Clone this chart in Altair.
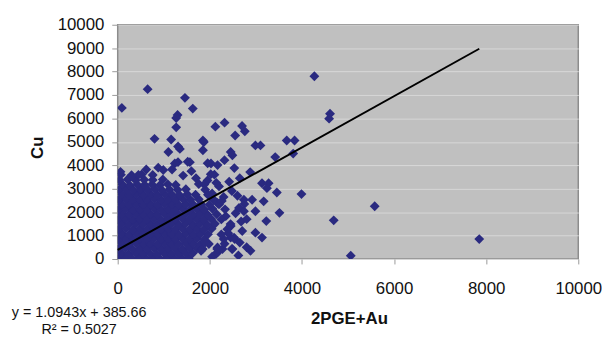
import altair as alt
import pandas as pd

# ---- data: 2PGE+Au (x) vs Cu (y) ----
dense_x = [
    12, 165, 318, 462, 615, 770, 912, 1068, 1222, 1385, 1540,
    85, 238, 392, 545, 698, 852, 1006, 1160, 1315, 1470, 1625,
    18, 170, 326, 480, 634, 788, 942, 1096, 1250, 1406, 1560, 1720,
    92, 246, 400, 554, 708, 862, 1016, 1170, 1324, 1478, 1632, 1790,
    20, 175, 330, 484, 638, 792, 946, 1100, 1254, 1408, 1562, 1716, 1880,
    95, 250, 404, 558, 712, 866, 1020, 1174, 1328, 1482, 1636, 1792, 1960,
    22, 178, 332, 486, 640, 794, 948, 1102, 1256, 1410, 1564, 1718, 1874, 2040,
    88, 242, 396, 550, 704, 858, 1012, 1166, 1320, 1474, 1628, 1782, 1940, 2110,
    16, 172, 326, 480, 634, 788, 942, 1096, 1250, 1404, 1558, 1712, 1868, 2030,
    90, 244, 398, 552, 706, 860, 1014, 1168, 1322, 1476, 1630, 1786, 1950,
    20, 176, 330, 484, 638, 792, 946, 1100, 1254, 1408, 1562, 1716, 1880, 2060,
    94, 248, 402, 556, 710, 864, 1018, 1172, 1326, 1480, 1640, 1810, 1990,
    24, 180, 334, 488, 642, 796, 950, 1104, 1258, 1416, 1580, 1760,
    98, 252, 406, 560, 714, 868, 1022, 1178, 1340, 1510, 1690,
    28, 184, 338, 492, 648, 804, 962, 1124, 1300, 1480,
    102, 262, 420, 584, 746, 915, 1090, 1260,
    40, 214, 392, 575, 760, 980,
    70, 300, 520, 760,
]
dense_y = [
    20, 55, 8, 42, 15, 60, 25, 48, 12, 38, 22,
    245, 210, 260, 225, 240, 205, 255, 230, 215, 262, 240,
    430, 465, 420, 450, 438, 470, 425, 455, 440, 418, 462, 445,
    660, 630, 675, 645, 660, 628, 670, 650, 635, 668, 648, 620,
    850, 880, 845, 870, 858, 882, 840, 868, 852, 875, 848, 870, 842,
    1080, 1050, 1085, 1062, 1078, 1045, 1090, 1066, 1050, 1082, 1060, 1075, 1052,
    1270, 1298, 1262, 1285, 1275, 1300, 1258, 1290, 1272, 1295, 1265, 1288, 1270, 1295,
    1500, 1472, 1505, 1485, 1498, 1468, 1510, 1488, 1470, 1502, 1482, 1498, 1475, 1505,
    1690, 1718, 1682, 1705, 1695, 1720, 1678, 1710, 1692, 1715, 1686, 1708, 1690, 1712,
    1920, 1892, 1925, 1905, 1918, 1888, 1930, 1908, 1890, 1922, 1902, 1918, 1895,
    2110, 2138, 2102, 2125, 2115, 2140, 2098, 2130, 2112, 2135, 2106, 2128, 2110, 2136,
    2340, 2312, 2345, 2325, 2338, 2308, 2350, 2328, 2310, 2342, 2322, 2338, 2316,
    2530, 2558, 2522, 2545, 2535, 2560, 2518, 2550, 2532, 2555, 2526, 2548,
    2760, 2732, 2765, 2745, 2758, 2728, 2770, 2748, 2735, 2762, 2742,
    2950, 2978, 2942, 2965, 2955, 2980, 2938, 2970, 2952, 2975,
    3180, 3152, 3185, 3165, 3178, 3150, 3186, 3160,
    3370, 3398, 3362, 3388, 3376, 3395,
    3600, 3575, 3610, 3585,
]

spread_x = [
    2025, 2168, 2490, 2318, 2532, 2876, 1953, 1567, 1309, 2453, 3133, 3276,
    3240, 3455, 2740, 2633, 2990, 3512, 3226, 2704, 2990, 3133, 2883, 2453,
    2167, 1810, 2918, 3169, 2740, 2168, 2347, 2454, 2526, 2490, 1846, 2168,
    2275, 2132, 2300, 2540, 2380, 2450, 2250, 2150, 2330, 2200, 2080, 1900,
    2160, 2480, 1980, 2050, 2300, 2480, 2200, 1950, 2420, 2650, 2100, 1700,
    1600, 2600, 2750, 2560, 2680, 2400, 2800, 2650, 2800, 2320, 2620, 2050,
    1900, 2250, 60, 310, 450, 990, 1240, 1520, 1100, 1350, 800, 1160,
    1960, 2140, 2260, 1880, 2020, 1760, 1420, 1180, 620, 880,
]
spread_y = [
    4079, 4008, 4430, 4220, 3880, 3710, 4090, 4135, 4135, 4571, 3235, 3235,
    3024, 2841, 2531, 2180, 2039, 1969, 1617, 1196, 1125, 914, 352, 914,
    492, 352, 2531, 2461, 2039, 2391, 1828, 1406, 914, 422, 422, 281,
    422, 211, 850, 850, 1270, 1490, 1690, 1910, 2120, 2330, 2540, 2960,
    430, 430, 640, 2800, 2650, 2900, 3100, 3350, 3300, 3450, 3600, 3450,
    3750, 2700, 2350, 1950, 1600, 1100, 1700, 700, 500, 650, 150, 100,
    700, 1050, 3720, 3520, 3590, 3800, 4080, 4150, 4570, 4700, 5130, 5100,
    2740, 3250, 2480, 3180, 3620, 3200, 3560, 3820, 3820, 3900,
]

outlier_x = [
    90, 650, 1460, 1630, 1300, 1270, 1270, 1310, 1850, 1850, 1870,
    2120, 2320, 2700, 2760, 2550, 2990, 3100, 3670, 3840, 3420, 3810,
    4270, 4610, 4590, 3990, 5580, 4690, 5060, 7850,
]
outlier_y = [
    6450, 7250, 6880, 6420, 6150, 6020, 5620, 4800, 5060, 4640, 4990,
    5650, 5820, 5680, 5450, 5270, 4850, 4850, 5060, 5060, 4350, 4500,
    7800, 6200, 5990, 2770, 2250, 1650, 140, 850,
]

x_ticks = [0, 2000, 4000, 6000, 8000, 10000]
y_ticks = [0, 1000, 2000, 3000, 4000, 5000, 6000, 7000, 8000, 9000, 10000]

trend_slope = 1.0943
trend_intercept = 385.66
trend_x = [0, 7850]
equation_text = ["y = 1.0943x + 385.66"]
r2_text = ["R\u00b2 = 0.5027"]

FONT = "Liberation Sans"

df = pd.DataFrame({
    "pge": dense_x + spread_x + outlier_x,
    "cu": dense_y + spread_y + outlier_y,
})
trend_df = pd.DataFrame({"pge": trend_x})

x_scale = alt.Scale(domain=[0, 10000], nice=False, zero=False)
y_scale = alt.Scale(domain=[0, 10000], nice=False, zero=False)

x_axis = alt.Axis(
    values=x_ticks, format="d", title="2PGE+Au", grid=False, domain=False,
    tickColor="#9a9a9a", tickSize=5, labelFontSize=17, labelFont=FONT,
    labelColor="#111111", labelBaseline="alphabetic", labelPadding=30,
    labelFlush=False, labelOverlap=False,
    titleFont=FONT, titleFontSize=17, titleFontWeight="bold", titleColor="#111111",
    titleX=234, titleY=60, titleBaseline="middle", titleAlign="center",
)
y_axis = alt.Axis(
    values=y_ticks, format="d", title="Cu", grid=True, gridColor="#d8d8d8", gridWidth=1,
    domain=False, tickColor="#9a9a9a", tickSize=6, labelPadding=8,
    labelFontSize=17, labelFont=FONT, labelColor="#111111",
    labelFlush=False, labelOverlap=False,
    titleFont=FONT, titleFontSize=17, titleFontWeight="bold", titleColor="#111111",
    titleX=-81, titleY=124, titleAngle=270, titleBaseline="middle", titleAlign="center",
)

points = alt.Chart(df).mark_point(
    shape="diamond", filled=True, size=100, color="#2a2a80", opacity=1, clip=True
).encode(
    x=alt.X("pge:Q", scale=x_scale, axis=x_axis),
    y=alt.Y("cu:Q", scale=y_scale, axis=y_axis),
)

trend = alt.Chart(trend_df).transform_calculate(
    cu=f"{trend_slope} * datum.pge + {trend_intercept}"
).mark_line(color="#000000", strokeWidth=2).encode(
    x=alt.X("pge:Q", scale=x_scale, axis=x_axis),
    y=alt.Y("cu:Q", scale=y_scale, axis=y_axis),
)

eq1 = alt.Chart(pd.DataFrame({"t": equation_text})).mark_text(
    font=FONT, fontSize=14.5, color="#111111", align="center", baseline="alphabetic"
).encode(x=alt.value(-39), y=alt.value(296), text="t:N")

eq2 = alt.Chart(pd.DataFrame({"t": r2_text})).mark_text(
    font=FONT, fontSize=14.5, color="#111111", align="center", baseline="alphabetic"
).encode(x=alt.value(-39), y=alt.value(313), text="t:N")

chart = alt.layer(points, trend, eq1, eq2).properties(
    width=466, height=237,
    padding={"left": 111, "top": 15, "right": 24, "bottom": 79},
    autosize=alt.AutoSizeParams(type="none"),
    background="#ffffff",
).configure_view(
    fill="#c0c0c0", stroke="#8c8c8c", strokeWidth=1.5
)

chart.save("out.html", embed_options={"renderer": "svg", "actions": False})
